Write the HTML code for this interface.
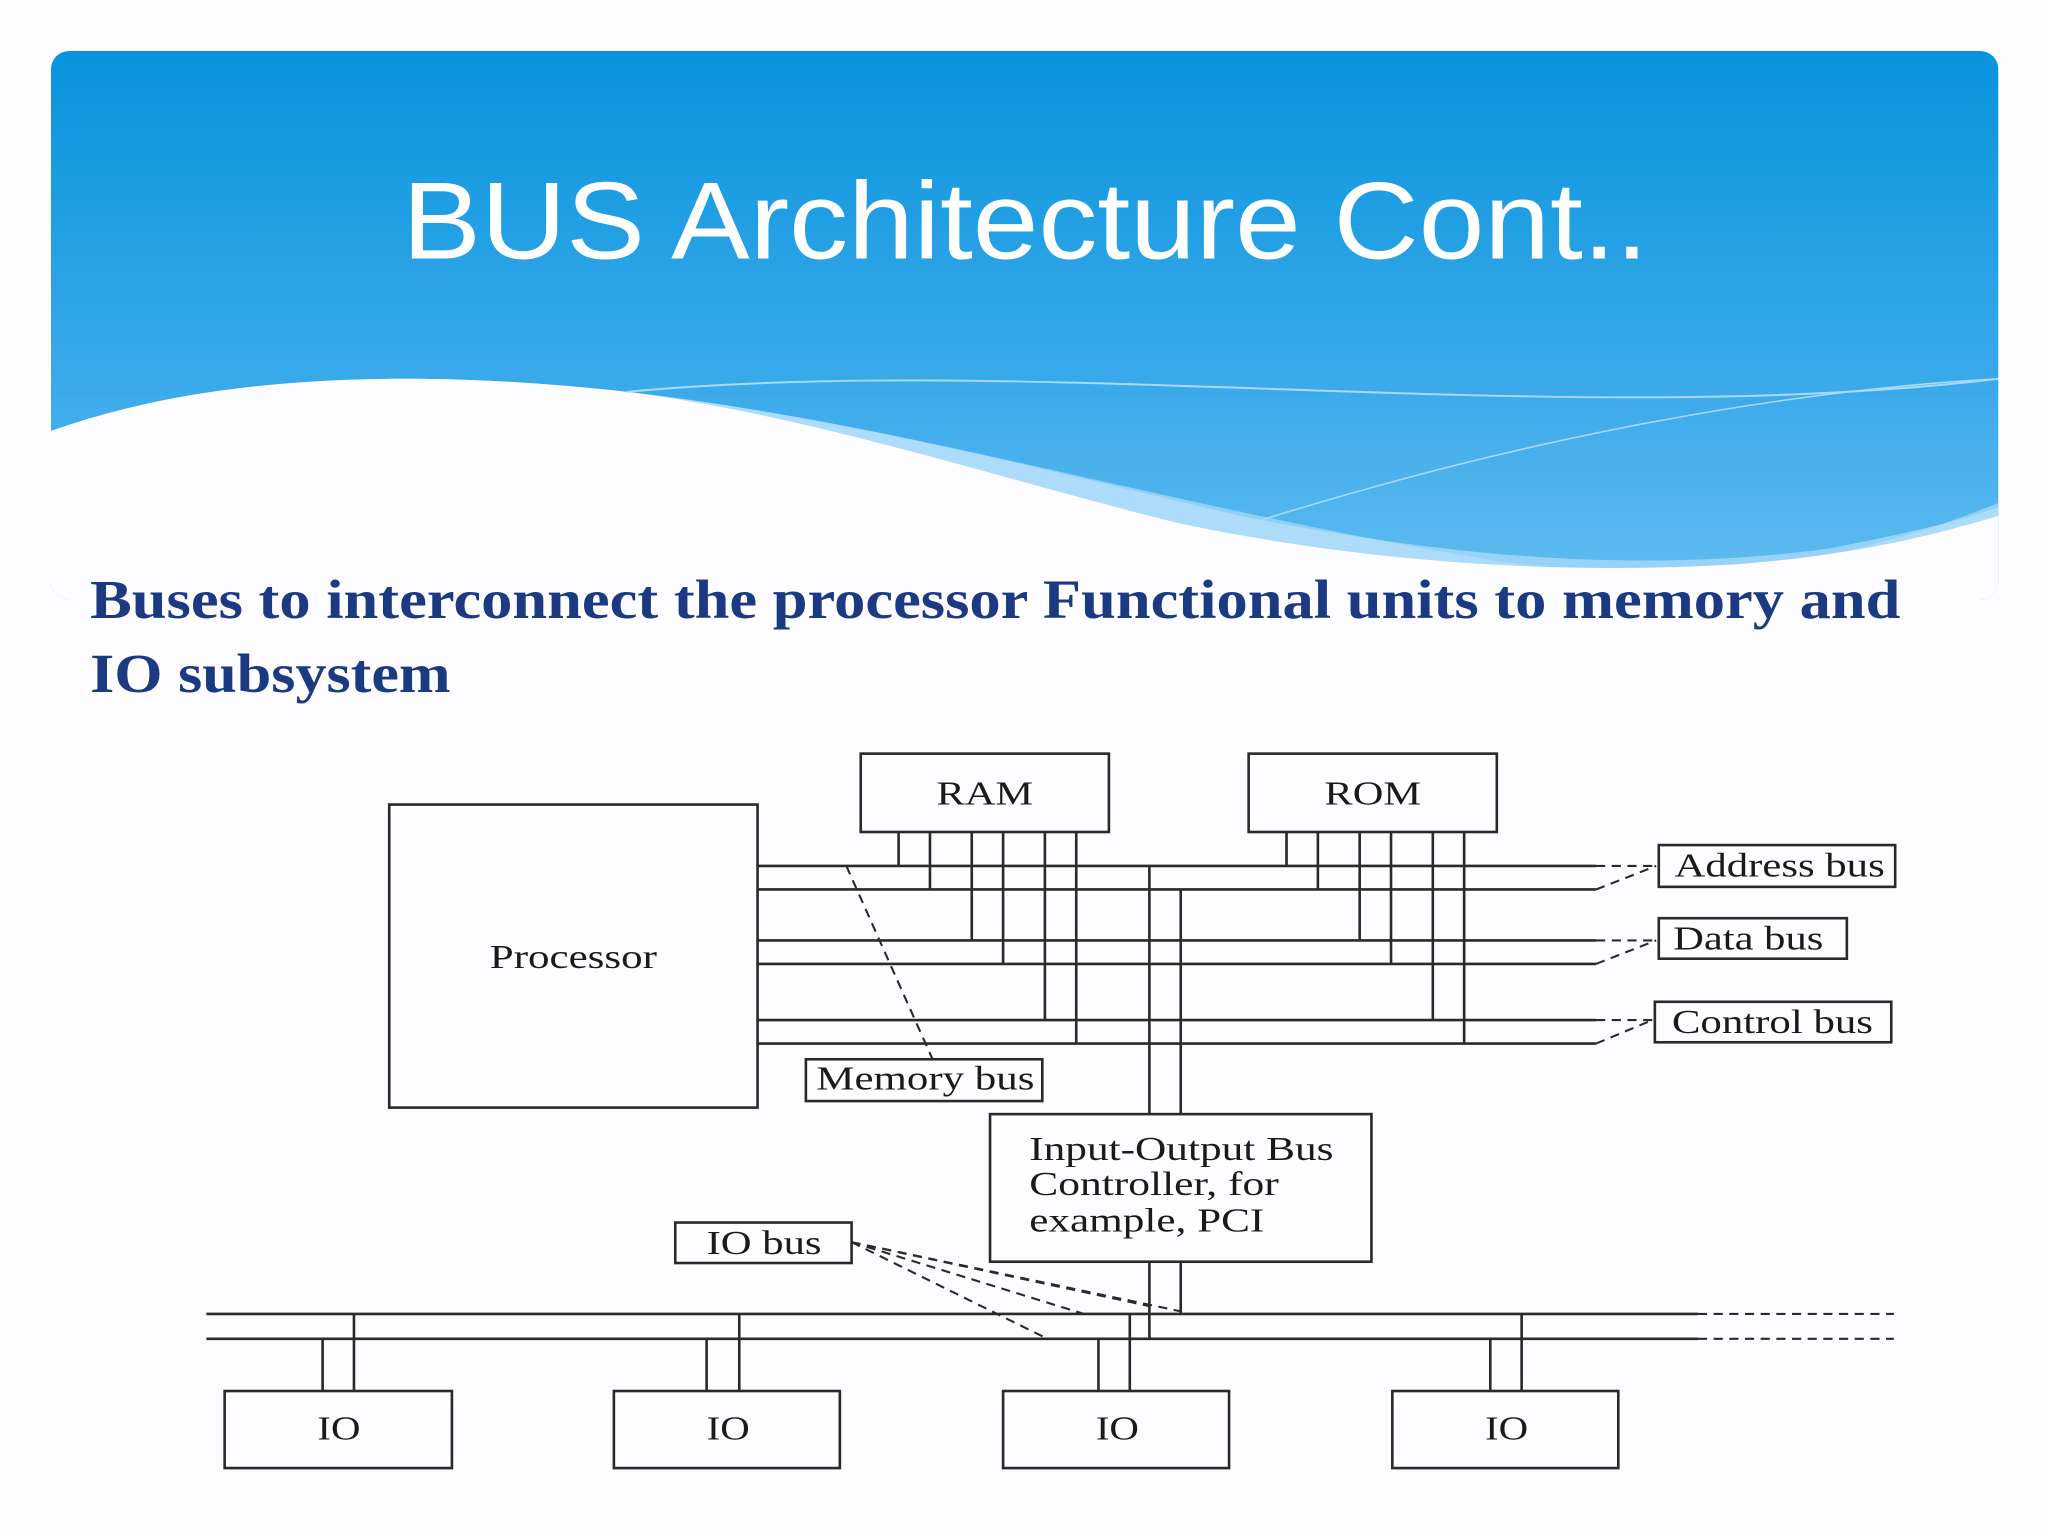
<!DOCTYPE html>
<html><head><meta charset="utf-8"><style>
html,body{margin:0;padding:0;background:#fdfcfe;}
svg{display:block;}
</style></head><body>
<svg width="2048" height="1536" viewBox="0 0 1568 1176" preserveAspectRatio="none" xmlns="http://www.w3.org/2000/svg">
<defs>
<linearGradient id="g" x1="0" y1="0" x2="0" y2="1">
<stop offset="0" stop-color="#0894dc"/>
<stop offset="0.6" stop-color="#3aa9ea"/>
<stop offset="1" stop-color="#62bdf0"/>
</linearGradient>
<clipPath id="c"><rect x="39" y="39" width="1491" height="420" rx="14"/></clipPath>
</defs>
<rect width="1568" height="1176" fill="#fdfcfe"/>
<g clip-path="url(#c)">
<rect x="39" y="39" width="1491" height="420" fill="url(#g)"/>
<path d="M39 330 C150 290 300 280 480 300 C700 325 900 390 1150 430 C1300 450 1420 430 1530 385 L1530 460 L39 460Z" fill="#8fd0f6"/>
<path d="M39 330 C150 290 300 280 480 300 C650 320 800 360 950 395 C1100 425 1250 440 1400 420 C1450 410 1500 400 1530 388 L1530 460 L39 460Z" fill="#bfe5fb" opacity="0.6"/>
<path d="M39 330 C150 290 300 280 480 300 C620 318 760 365 900 400 C1050 432 1200 440 1330 432 C1420 425 1480 410 1530 395 L1530 460 L39 460Z" fill="#fdfcfe"/>
<path d="M480 300 C800 270 1200 330 1530 290" stroke="#a7dbf8" stroke-width="1.5" fill="none"/>
<path d="M960 400 C1150 340 1350 300 1530 290" stroke="#a7dbf8" stroke-width="1.2" fill="none"/>
</g>
<text x="785" y="198" fill="#fff" font-family="Liberation Sans, sans-serif" font-size="84" text-anchor="middle" textLength="954" lengthAdjust="spacingAndGlyphs">BUS Architecture Cont..</text>
<g font-family="Liberation Serif, serif" font-weight="bold" font-size="42" fill="#1b3a82">
<text x="69" y="473" textLength="1386" lengthAdjust="spacingAndGlyphs">Buses to interconnect the processor Functional units to memory and</text>
<text x="69" y="530" textLength="276" lengthAdjust="spacingAndGlyphs">IO subsystem</text>
</g>
<g stroke="#2a2a2a" stroke-width="2" fill="none">
<rect x="298" y="616" width="282" height="232"/>
<rect x="659" y="577" width="190" height="60"/>
<rect x="956" y="577" width="190" height="60"/>
<rect x="1270" y="647" width="181" height="32"/>
<rect x="1270" y="703" width="144" height="31"/>
<rect x="1267" y="767" width="181" height="31"/>
<rect x="617" y="811" width="181" height="32"/>
<rect x="758" y="853" width="292" height="113"/>
<rect x="517" y="936" width="135" height="31"/>
<rect x="172" y="1065" width="174" height="59"/>
<rect x="470" y="1065" width="173" height="59"/>
<rect x="768" y="1065" width="173" height="59"/>
<rect x="1066" y="1065" width="173" height="59"/>
<path d="M580 663H1222M580 681H1222M580 720H1222M580 738H1222M580 781H1222M580 799H1222"/>
<path d="M688 637V663M712 637V681M744 637V720M768 637V738M800 637V781M824 637V799"/>
<path d="M985 637V663M1009 637V681M1041 637V720M1065 637V738M1097 637V781M1121 637V799"/>
<path d="M880 663V853M904 681V853M880 966V1025M904 966V1006"/>
<path d="M158 1006H1300M158 1025H1300"/>
<path d="M247 1025V1065M271 1006V1065M541 1025V1065M566 1006V1065M841 1025V1065M865 1006V1065M1141 1025V1065M1165 1006V1065"/>
</g>
<g stroke="#2a2a2a" stroke-width="1.6" fill="none" stroke-dasharray="7,5">
<path d="M1222 663H1268M1222 681L1268 663M1222 720H1268M1222 738L1268 720M1222 781H1265M1222 799L1265 781"/>
<path d="M1300 1006H1450M1300 1025H1450"/>
<path d="M648 663L714 811"/>
<path d="M652 951L802 1025M652 951L830 1006M652 951L880 1000M652 951L904 1004"/>
</g>
<g font-family="Liberation Serif, serif" font-size="26" fill="#1a1a1a" lengthAdjust="spacingAndGlyphs">
<text x="375" y="741" textLength="128" lengthAdjust="spacingAndGlyphs">Processor</text>
<text x="717" y="616" textLength="74" lengthAdjust="spacingAndGlyphs">RAM</text>
<text x="1014" y="616" textLength="74" lengthAdjust="spacingAndGlyphs">ROM</text>
<text x="1282" y="671" textLength="161" lengthAdjust="spacingAndGlyphs">Address bus</text>
<text x="1281" y="727" textLength="115" lengthAdjust="spacingAndGlyphs">Data bus</text>
<text x="1280" y="791" textLength="154" lengthAdjust="spacingAndGlyphs">Control bus</text>
<text x="625" y="834" textLength="167" lengthAdjust="spacingAndGlyphs">Memory bus</text>
<text x="788" y="888" textLength="233" lengthAdjust="spacingAndGlyphs">Input-Output Bus</text>
<text x="788" y="915" textLength="191" lengthAdjust="spacingAndGlyphs">Controller, for</text>
<text x="788" y="943" textLength="180" lengthAdjust="spacingAndGlyphs">example, PCI</text>
<text x="541" y="960" textLength="88" lengthAdjust="spacingAndGlyphs">IO bus</text>
<text x="243" y="1102" textLength="33" lengthAdjust="spacingAndGlyphs">IO</text>
<text x="541" y="1102" textLength="33" lengthAdjust="spacingAndGlyphs">IO</text>
<text x="839" y="1102" textLength="33" lengthAdjust="spacingAndGlyphs">IO</text>
<text x="1137" y="1102" textLength="33" lengthAdjust="spacingAndGlyphs">IO</text>
</g>
</svg>
</body></html>
